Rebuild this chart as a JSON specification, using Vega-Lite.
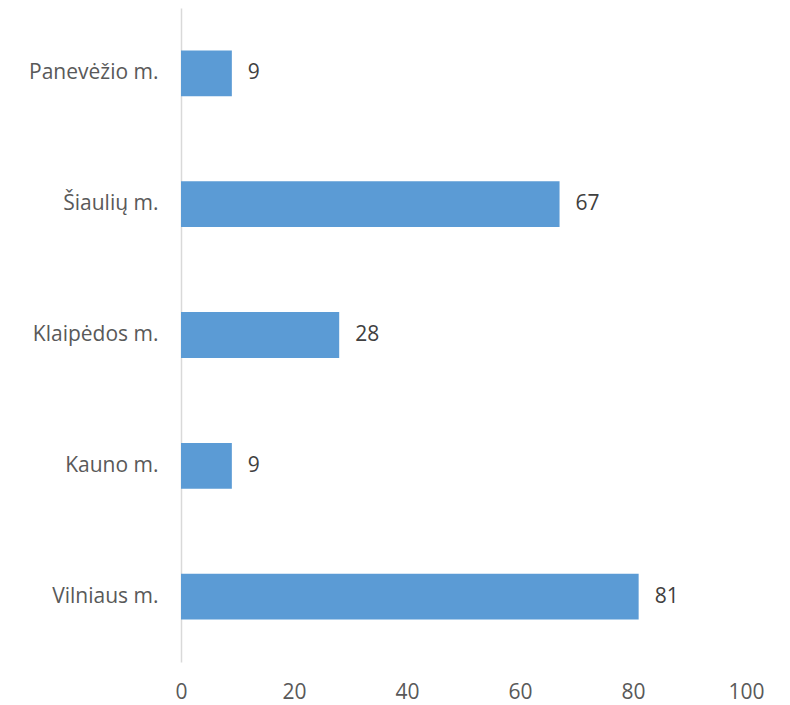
{
  "$schema": "https://vega.github.io/schema/vega-lite/v6.json",
  "width": 565,
  "height": 654,
  "autosize": {"type": "none"},
  "padding": {"left": 181, "top": 8, "right": 44, "bottom": 43},
  "background": "white",
  "config": {"view": {"stroke": null}, "font": "Open Sans"},
  "data": {"values": [
    {"city": "Panevėžio m.", "value": 9},
    {"city": "Šiaulių m.", "value": 67},
    {"city": "Klaipėdos m.", "value": 28},
    {"city": "Kauno m.", "value": 9},
    {"city": "Vilniaus m.", "value": 81}
  ]},
  "encoding": {
    "y": {"field": "city", "type": "nominal", "sort": null,
      "scale": {"paddingInner": 0.65, "paddingOuter": 0.325},
      "axis": {"title": null, "ticks": false, "domainColor": "#D9D9D9", "domainWidth": 1.5,
        "labelFont": "Open Sans", "labelFontSize": 21, "labelColor": "#595959", "labelPadding": 23}},
    "x": {"field": "value", "type": "quantitative",
      "scale": {"domain": [0, 100], "nice": false},
      "axis": {"title": null, "values": [0, 20, 40, 60, 80, 100], "grid": false, "domain": false, "ticks": false,
        "labelFont": "Open Sans", "labelFontSize": 21, "labelColor": "#595959", "labelPadding": 19, "labelFlush": false}}
  },
  "layer": [
    {"mark": {"type": "bar", "color": "#5B9BD5"}},
    {"mark": {"type": "text", "align": "left", "dx": 16, "fontSize": 21, "color": "#404040", "font": "Open Sans"},
      "encoding": {"text": {"field": "value", "type": "quantitative"}}}
  ]
}
